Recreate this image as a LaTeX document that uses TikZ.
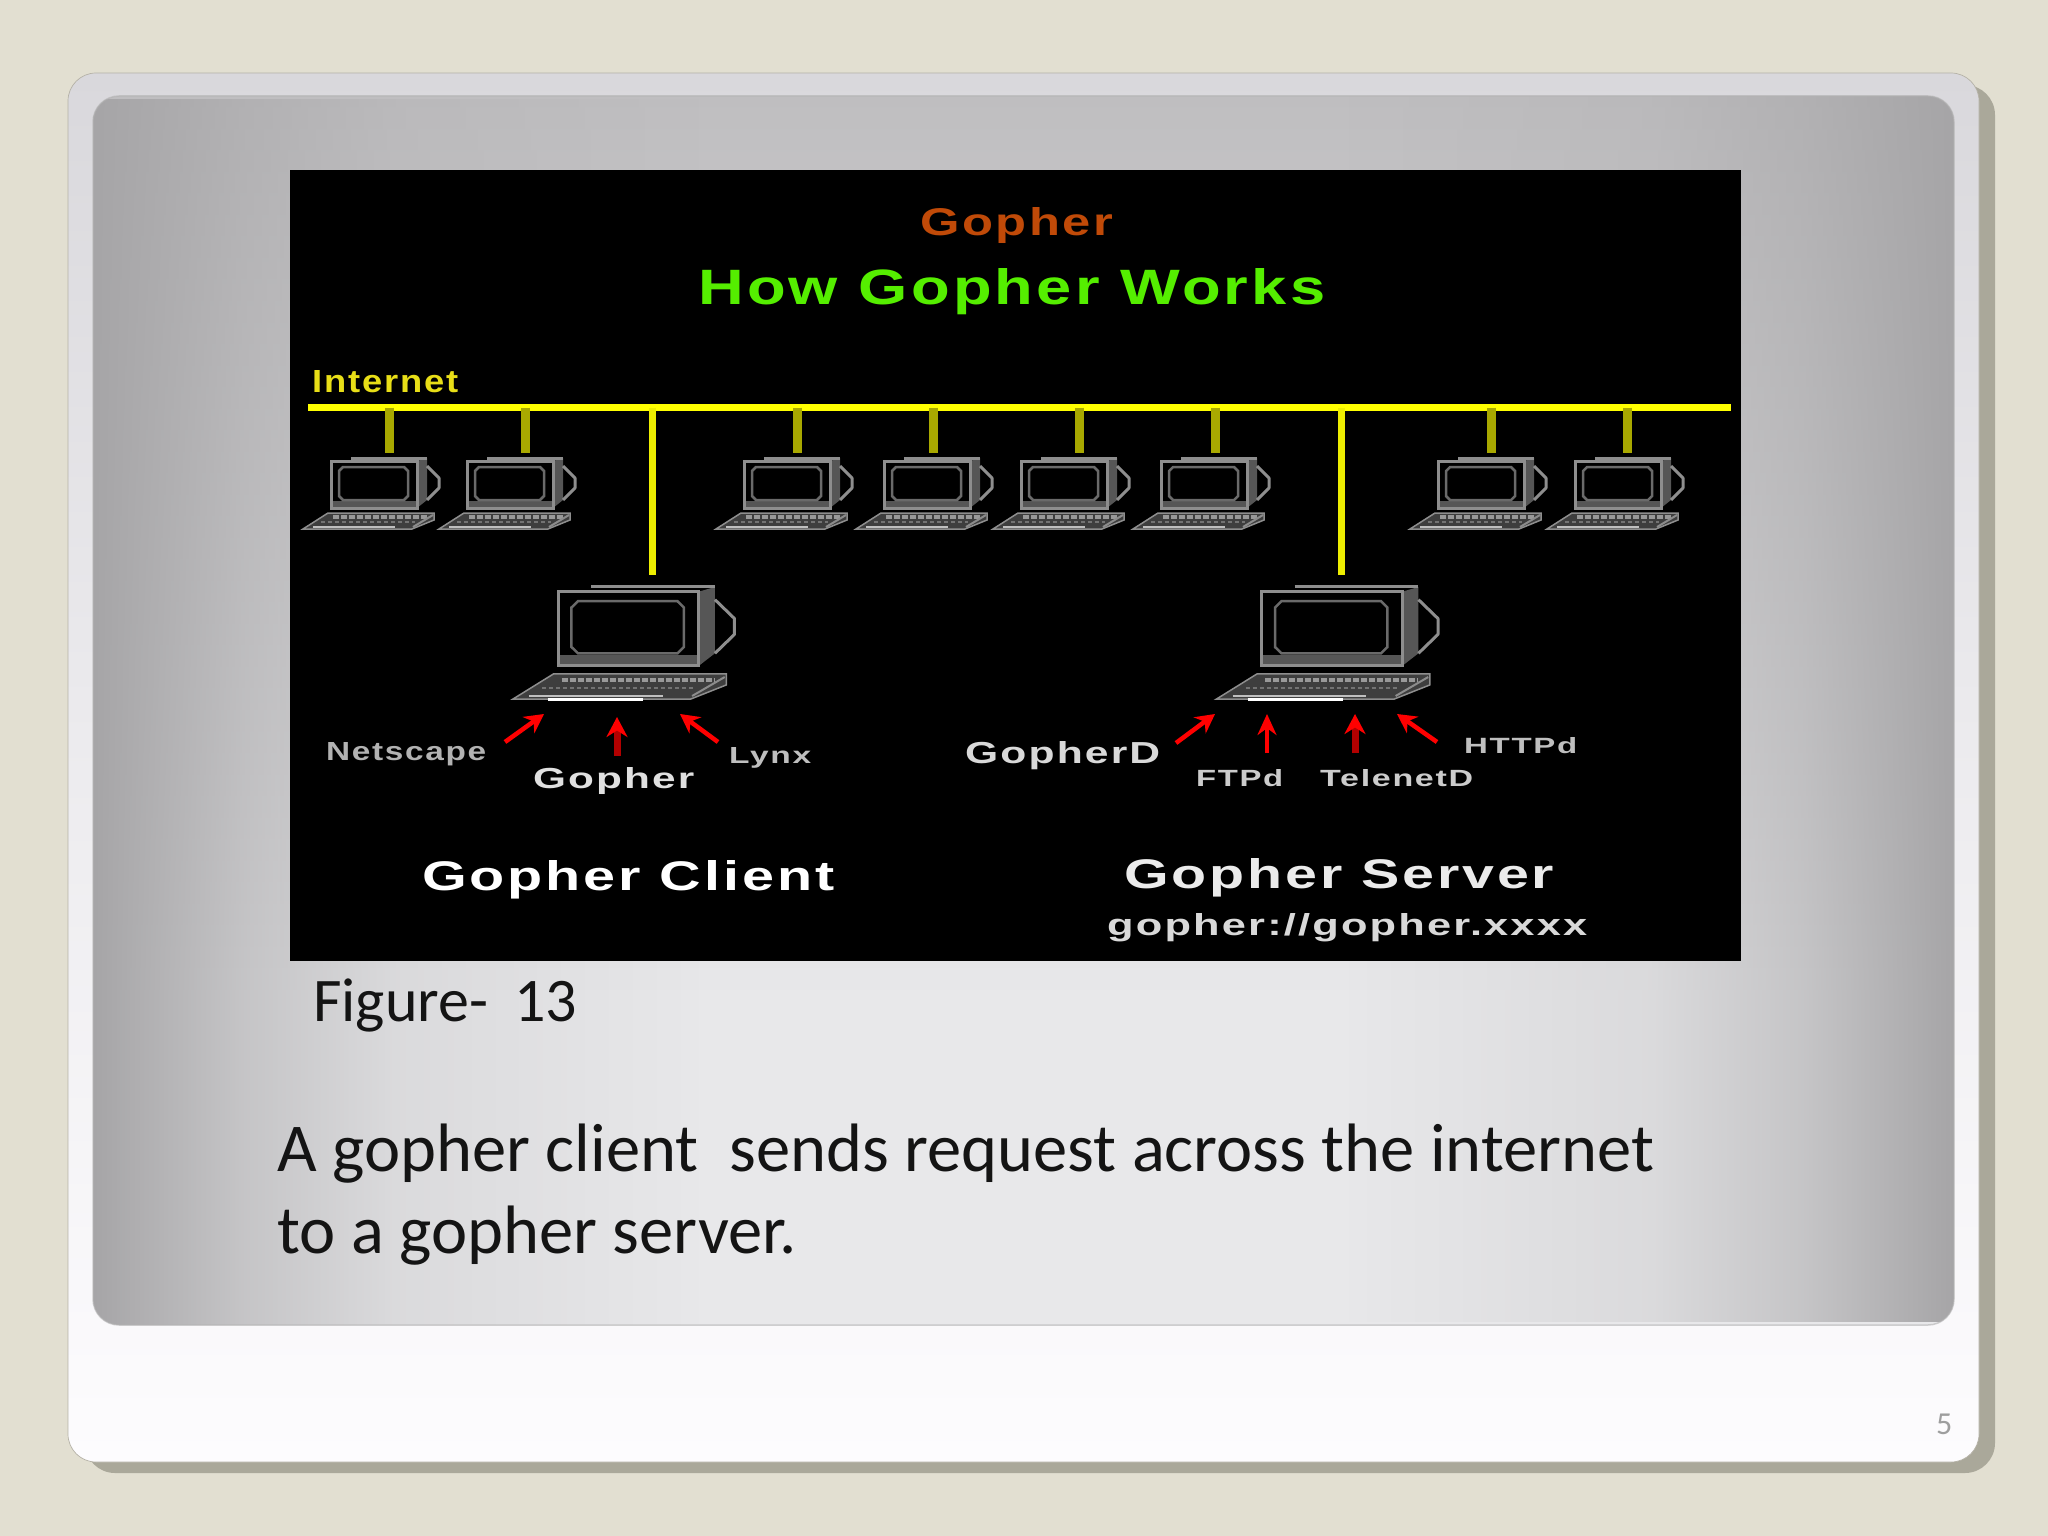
\documentclass[tikz,border=0pt]{standalone}
\usepackage{fontspec}
\usetikzlibrary{arrows.meta,fadings}
\setmainfont{Carlito}
\newfontfamily\pixfont[LetterSpace=5]{Liberation Sans}
\definecolor{pagebg}{HTML}{E2DFD1}
\definecolor{shadowc}{HTML}{AAA89A}
\definecolor{cardtop}{HTML}{D9D8DC}
\definecolor{cardbot}{HTML}{FDFCFE}
\definecolor{innerA}{HTML}{E8E8EA}
\definecolor{innerT}{HTML}{BFBEC0}
\definecolor{innerB}{HTML}{A6A5A7}
\definecolor{busy}{HTML}{FFFF00}
\definecolor{stuby}{HTML}{A8A800}
\definecolor{dropy}{HTML}{EDED00}
\definecolor{frameg}{HTML}{8E8E8E}
\definecolor{bandg}{HTML}{565656}
\definecolor{kbdg}{HTML}{3E3E3E}
\definecolor{screeng}{HTML}{6A6A6A}
\definecolor{titleo}{HTML}{C04A08}
\definecolor{titleg}{HTML}{55EE00}
\pgfdeclarehorizontalshading{sidemask}{100bp}{color(0bp)=(white);color(25bp)=(white);color(37.5bp)=(white!52!black);color(50bp)=(white!20!black);color(75bp)=(black);color(100bp)=(black)}
\pgfdeclarefading{sidefade}{\pgfuseshading{sidemask}}
\newcommand\fittext[3]{\resizebox{#1pt}{#2pt}{#3}}
\tikzset{
  lab/.style={inner sep=0pt,anchor=base west,text=#1,font=\pixfont\bfseries\fontsize{40}{40}\selectfont},
  slidetext/.style={inner sep=0pt,anchor=base west,text=black!92,font=\fontsize{#1}{#1}\selectfont},
  bus/.style={draw=busy,line width=7pt},
  stub/.style={draw=stuby,line width=9pt},
  drop/.style={draw=dropy,line width=7pt},
  thinarrow/.style={draw=red,line width=4.5pt,-{Stealth[length=19pt,width=20pt]}},
  wideshaft/.style={draw=red!70!black,line width=7pt,-{Stealth[length=20pt,width=21pt,color=red]}},
  midshaft/.style={draw=red,line width=4.5pt,-{Stealth[length=21pt,width=19pt]}},
  spacebar/.style={draw=white,line width=3pt},
  laptop/.pic={
    \fill[bandg] (86,3) -- (96,0) -- (96,42) -- (86,50) -- cycle;
    \draw[frameg,line width=3pt] (20,0) -- (96,0);
    \fill[bandg] (0,43) rectangle (86,50);
    \draw[frameg,line width=3pt] (0,3) rectangle (86,50);
    \draw[frameg,line width=3pt,line join=round] (96,8) -- (108,20) -- (108,30) -- (96,42);
    \draw[screeng,line width=2.5pt] (12,9) -- (73,9) -- (77,13) -- (77,38) -- (73,42) -- (12,42) -- (8,38) -- (8,13) -- cycle;
    \fill[kbdg,draw=frameg,line width=1.5pt] (-28,71) -- (-3,55) -- (103,55) -- (103,62) -- (81,71) -- cycle;
    \draw[black!40,line width=3.5pt,dash pattern=on 6pt off 2pt] (2,59) -- (96,59);
    \draw[black!55,line width=2.5pt,dash pattern=on 4pt off 3pt] (-10,64) -- (84,64);
    \draw[black!25,line width=2.5pt] (-18,69) -- (64,69);
    \draw[black!45,line width=2pt] (82,69) -- (102,57);
  }
}
\begin{document}
\begin{tikzpicture}[x=1pt,y=-1pt]
\useasboundingbox (0,0) rectangle (2048,1536);
\fill[pagebg] (0,0) rectangle (2048,1536);
% slide
\fill[shadowc,rounded corners=30pt] (85,85) rectangle (1995,1473);
\shade[draw=black!20!pagebg,line width=0.7pt,rounded corners=28pt,top color=cardtop,bottom color=cardbot,middle color=cardbot!55!cardtop] (68,73) rectangle (1979,1462);
\begin{scope}
  \clip[rounded corners=26pt] (93,96) rectangle (1954,1325);
  \fill[innerA] (93,990) rectangle (1954,1325);
  \shade[top color=innerT,bottom color=innerA] (93,96) rectangle (1954,1000);
  \fill[innerB,path fading=sidefade] (93,96) rectangle (700,1325);
  \fill[innerB,path fading=sidefade,fading angle=180] (1347,96) rectangle (1954,1325);
\end{scope}
\draw[black!30,opacity=0.6,line width=1.5pt,rounded corners=26pt] (93,96) rectangle (1954,1325);
% picture
\fill[black] (290,170) rectangle (1741,961);
\node[lab=titleo] (t1) at (920,235) {\fittext{193}{28}{Gopher}};
\node[lab=titleg] (t2) at (698,304) {\fittext{627}{36}{How Gopher Works}};
\node[lab=yellow!90!black] (inet) at (312,392) {\fittext{146}{22}{Internet}};
% bus
\coordinate (busL) at (308,407.5);
\coordinate (busR) at (1731,407.5);
\draw[bus] (busL) -- (busR);
% small laptops and stubs
\foreach \n/\lx/\sx in {a/331/389,b/467/525,c/744/797,d/884/933,e/1021/1079,f/1161/1215,g/1438/1491,h/1575/1627}{
  \pic (lap\n) at (\lx,458) {laptop};
  \coordinate (s\n top) at (\sx,407.5);
  \coordinate (s\n bot) at (\sx,453);
  \draw[stub] (s\n top) -- (s\n bot);
}
% large laptops and drops
\begin{scope}[xscale=1.63,yscale=1.58]
  \pic[transform shape] (lapC) at (342.6,371.5) {laptop};
  \pic[transform shape] (lapS) at (774.2,371.5) {laptop};
\end{scope}
\coordinate (spC1) at (548,699); \coordinate (spC2) at (643,699);
\coordinate (spS1) at (1248,699); \coordinate (spS2) at (1343,699);
\draw[spacebar] (spC1) -- (spC2);
\draw[spacebar] (spS1) -- (spS2);
\coordinate (dC1) at (652.5,407.5); \coordinate (dC2) at (652.5,575);
\coordinate (dS1) at (1341,407.5); \coordinate (dS2) at (1341,575);
\draw[drop] (dC1) -- (dC2);
\draw[drop] (dS1) -- (dS2);
% labels
\node[lab=black!30] (nets) at (326,760) {\fittext{160}{18}{Netscape}};
\node[lab=black!12] (goph) at (533,788) {\fittext{161}{21}{Gopher}};
\node[lab=black!25] (lynx) at (729,763) {\fittext{82}{16}{Lynx}};
\node[lab=white] (cli) at (422,890) {\fittext{412}{30}{Gopher Client}};
\node[lab=black!15] (gd) at (965,763) {\fittext{195}{22}{GopherD}};
\node[lab=black!20] (ftp) at (1196,786) {\fittext{87}{17}{FTPd}};
\node[lab=black!20] (tel) at (1320,786) {\fittext{153}{17}{TelenetD}};
\node[lab=black!25] (http) at (1464,753) {\fittext{113}{16}{HTTPd}};
\node[lab=black!8] (srv) at (1124,888) {\fittext{430}{30}{Gopher Server}};
\node[lab=black!15] (url) at (1107,935) {\fittext{480}{22}{gopher://gopher.xxxx}};
% client arrows
\coordinate (a1s) at (505,742); \coordinate (a1e) at (544,714);
\coordinate (a2s) at (617,756); \coordinate (a2e) at (617,717);
\coordinate (a3s) at (718,742); \coordinate (a3e) at (680,714);
\draw[thinarrow] (a1s) -- (a1e);
\draw[wideshaft] (a2s) -- (a2e);
\draw[thinarrow] (a3s) -- (a3e);
% server arrows
\coordinate (b1s) at (1176,743); \coordinate (b1e) at (1215,714);
\coordinate (b2s) at (1267,753); \coordinate (b2e) at (1267,714);
\coordinate (b3s) at (1355,753); \coordinate (b3e) at (1355,714);
\coordinate (b4s) at (1437,742); \coordinate (b4e) at (1397,714);
\draw[thinarrow] (b1s) -- (b1e);
\draw[midshaft] (b2s) -- (b2e);
\draw[wideshaft] (b3s) -- (b3e);
\draw[thinarrow] (b4s) -- (b4e);
% slide texts
\node[slidetext=62] (fig) at (313,1021) {Figure-\hspace{12pt} 13};
\node[slidetext=68.5] (l1) at (277,1171) {A gopher client\ \ sends request across the internet};
\node[slidetext=68.5] (l2) at (277,1253) {to a gopher server.};
\node[slidetext=32,text=black!38] (pg) at (1936,1434) {5};
\end{tikzpicture}
\end{document}
